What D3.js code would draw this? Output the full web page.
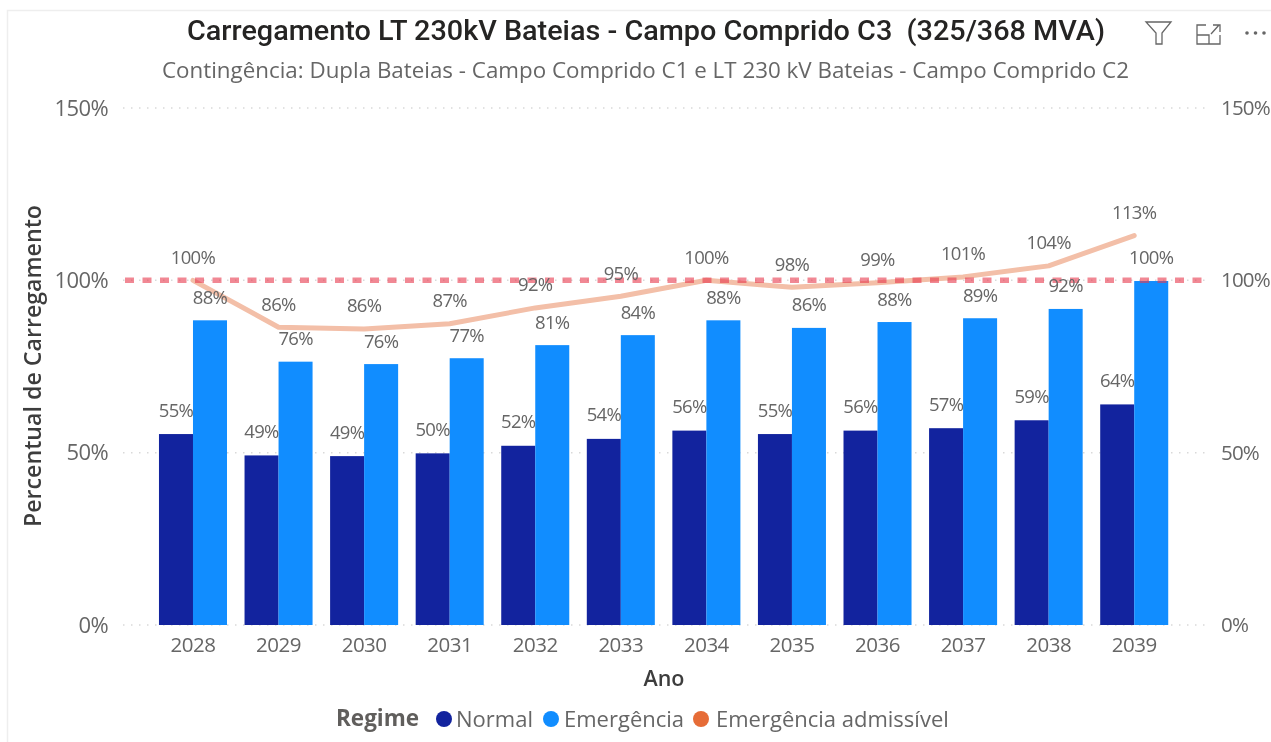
<!DOCTYPE html>
<html><head><meta charset="utf-8">
<script src="https://cdn.jsdelivr.net/npm/d3@7"></script>
<style>
html,body{margin:0;padding:0;background:#fff}
svg{display:block;filter:blur(0.4px)}
text{font-family:"Open Sans","Noto Sans",sans-serif}
.tick line,.domain{display:none}
</style></head><body><div id="c"></div>
<script>
const years=["2028","2029","2030","2031","2032","2033","2034","2035","2036","2037","2038","2039"];
const normal=[55.4,49.2,49,49.8,52,54,56.4,55.4,56.4,57.1,59.4,64];
const emergencia=[88.4,76.4,75.7,77.4,81.2,84.1,88.4,86.2,87.9,89,91.7,99.8];
const admissivel=[100,86.4,85.9,87.4,92,95.4,100,98,99.3,101,104.2,113];
const yTicks=[0,50,100,150];
const limit=100;
const titleText="Carregamento LT 230kV Bateias - Campo Comprido C3  (325/368 MVA)";
const subtitleText="Contingência: Dupla Bateias - Campo Comprido C1 e LT 230 kV Bateias - Campo Comprido C2";
const legendItems=[["Normal","#12239E"],["Emergência","#118DFF"],["Emergência admissível","#E66C37"]];

const W=1271,H=742;
const svg=d3.select("#c").append("svg").attr("width",W).attr("height",H);
svg.append("path").attr("d","M7.5,742V10.5H1271").attr("fill","none").attr("stroke","#eeeeee").attr("stroke-width",1.5);

const x=d3.scaleBand().domain(years).range([150.2,1177]).paddingInner(0.205).paddingOuter(0.1025);
const x1=d3.scaleBand().domain(["n","e"]).range([0,x.bandwidth()]);
const y=d3.scaleLinear().domain([0,150]).range([625,108]);
const pct=d=>d3.format(".0f")(d)+"%";

// grid
svg.append("g").selectAll("line").data(yTicks).join("line")
 .attr("x1",123).attr("x2",1205).attr("y1",d=>y(d)).attr("y2",d=>y(d))
 .attr("stroke","#d9d9d9").attr("stroke-width",1.5).attr("stroke-dasharray","1.5 6.5");

// axes
const axL=svg.append("g").attr("transform","translate(108,0)").call(d3.axisLeft(y).tickValues(yTicks).tickSize(0).tickPadding(0).tickFormat(d=>d+"%"));
const axR=svg.append("g").attr("transform","translate(1221,0)").call(d3.axisRight(y).tickValues(yTicks).tickSize(0).tickPadding(0).tickFormat(d=>d+"%"));
const axB=svg.append("g").attr("transform","translate(0,625)").call(d3.axisBottom(x).tickSize(0).tickPadding(12));
axL.selectAll("text").attr("font-size",22).attr("fill","#666666").attr("dy","0.32em").attr("letter-spacing",-0.6).style("font-family",'"Open Sans","Noto Sans",sans-serif');
axR.selectAll("text").attr("font-size",20.5).attr("fill","#666666").attr("dy","0.32em").attr("letter-spacing",-0.8).style("font-family",'"Open Sans","Noto Sans",sans-serif');
axB.selectAll("text").attr("font-size",20.5).attr("fill","#666666").attr("letter-spacing",-0.5).style("font-family",'"Open Sans","Noto Sans",sans-serif');

// bars
const g=svg.append("g");
g.selectAll("rect.n").data(years).join("rect").attr("class","n")
 .attr("x",d=>x(d)).attr("width",x1.bandwidth()).attr("y",(d,i)=>y(normal[i])).attr("height",(d,i)=>y(0)-y(normal[i])).attr("fill","#12239E");
g.selectAll("rect.e").data(years).join("rect").attr("class","e")
 .attr("x",d=>x(d)+x1.bandwidth()).attr("width",x1.bandwidth()).attr("y",(d,i)=>y(emergencia[i])).attr("height",(d,i)=>y(0)-y(emergencia[i])).attr("fill","#118DFF");

// admissible line
const line=d3.line().x((d,i)=>x(years[i])+x.bandwidth()/2).y(d=>y(d));
svg.append("path").datum(admissivel).attr("d",line).attr("fill","none").attr("stroke","#F3BFA8").attr("stroke-width",5).attr("stroke-linecap","round").attr("stroke-linejoin","round");
// limit
svg.append("line").attr("x1",125).attr("x2",1205).attr("y1",y(limit)).attr("y2",y(limit))
 .attr("stroke","#E8394C").attr("stroke-opacity",0.6).attr("stroke-width",5.5).attr("stroke-dasharray","9 8.5");

// labels
function labels(vals,xf,off){
 svg.append("g").selectAll("text").data(vals).join("text")
  .attr("x",(d,i)=>xf(years[i])).attr("y",d=>y(d)-off).attr("dy","0.35em").attr("text-anchor","middle")
  .attr("font-size",18.5).attr("letter-spacing",-0.7).attr("fill","#666666").text(pct);
}
labels(normal,d=>x(d)+x1.bandwidth()/2,24);
labels(emergencia,d=>x(d)+x1.bandwidth()*1.5,23);
labels(admissivel,d=>x(d)+x.bandwidth()/2,23);

// titles
svg.append("text").attr("x",646).attr("y",40).attr("text-anchor","middle").attr("font-size",27.5).attr("font-weight",500)
 .style("font-family","Roboto,sans-serif").style("white-space","pre").attr("fill","#252423").attr("textLength",918).attr("lengthAdjust","spacingAndGlyphs").text(titleText);
svg.append("text").attr("x",645.5).attr("y",78).attr("text-anchor","middle").attr("font-size",22.5).attr("fill","#666666").attr("textLength",967).attr("lengthAdjust","spacingAndGlyphs").text(subtitleText);
svg.append("text").attr("transform","translate(41,366) rotate(-90)").attr("text-anchor","middle").attr("font-size",22.5).attr("font-weight",600).attr("fill","#3d3d3d").attr("textLength",322).attr("lengthAdjust","spacingAndGlyphs").text("Percentual de Carregamento");
svg.append("text").attr("x",664).attr("y",686).attr("text-anchor","middle").attr("font-size",21.5).attr("font-weight",600).attr("fill","#3d3d3d").text("Ano");

// legend
svg.append("text").attr("x",336).attr("y",726).attr("font-size",22.5).attr("font-weight",700).attr("fill","#605E5C").text("Regime");
const lx=[444,551,701], tx=[456,564,716];
const lg=svg.append("g").selectAll("g").data(legendItems).join("g");
lg.append("circle").attr("cx",(d,i)=>lx[i]).attr("cy",719).attr("r",8).attr("fill",d=>d[1]);
lg.append("text").attr("x",(d,i)=>tx[i]).attr("y",726.5).attr("font-size",22).attr("fill","#666666").text(d=>d[0]);

// header icons
const ic=svg.append("g").attr("fill","none").attr("stroke","#666666").attr("stroke-width",1.3);
ic.append("path").attr("d","M1146,22H1171L1162,33V44H1156V33Z");
ic.append("path").attr("d","M1206,25H1197V44H1220V35M1197,35H1209V44M1211,34L1219,25M1213,25H1220V32");
svg.append("g").attr("fill","#666666").selectAll("circle").data([0,1,2]).join("circle").attr("cx",d=>1247+d*8.5).attr("cy",33).attr("r",1.8);
</script></body></html>
